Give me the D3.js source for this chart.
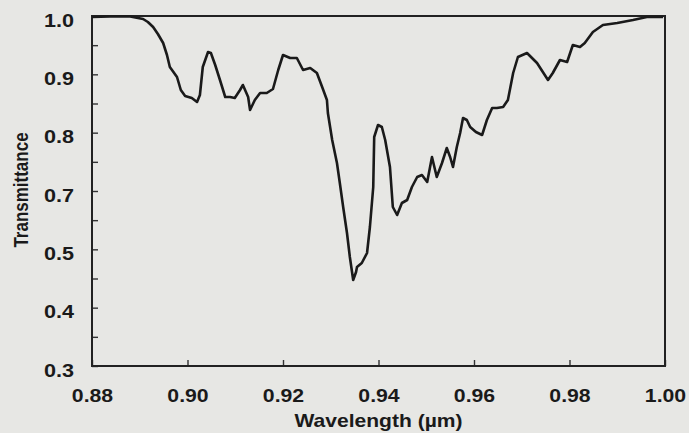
<!DOCTYPE html>
<html>
<head>
<meta charset="utf-8">
<script src="https://cdn.jsdelivr.net/npm/d3@7"></script>
<style>
  body { margin: 0; background: #e7e7e4; }
  svg { display: block; }
  text { font-family: "Liberation Sans", Arial, sans-serif; font-weight: bold; fill: #1a1a1a; }
  .line { fill: none; stroke: #1a1a1a; stroke-width: 2.6; stroke-linejoin: round; }
  .frame { fill: none; stroke: #222; stroke-width: 2; }
  .axis line { stroke: #333; stroke-width: 1.4; }
</style>
</head>
<body>
<svg width="689" height="433"></svg>
<script>

// wavelength (um) and transmittance
var wavelength = [0.8800, 0.8838, 0.8880, 0.8907, 0.8917, 0.8928, 0.8938, 0.8949, 0.8957, 0.8963,
                  0.8972, 0.8978, 0.8986, 0.8995, 0.9009, 0.9020, 0.9026, 0.9032, 0.9043, 0.9049,
                  0.9058, 0.9068, 0.9079, 0.9089, 0.9099, 0.9110, 0.9116, 0.9127, 0.9131, 0.9141,
                  0.9152, 0.9166, 0.9179, 0.9190, 0.9200, 0.9215, 0.9229, 0.9242, 0.9257, 0.9271,
                  0.9282, 0.9292, 0.9294, 0.9303, 0.9313, 0.9319, 0.9326, 0.9334, 0.9340, 0.9347,
                  0.9353, 0.9355, 0.9365, 0.9376, 0.9382, 0.9389, 0.9391, 0.9399, 0.9407, 0.9414,
                  0.9424, 0.9430, 0.9439, 0.9449, 0.9460, 0.9470, 0.9481, 0.9491, 0.9502, 0.9512,
                  0.9522, 0.9533, 0.9543, 0.9550, 0.9556, 0.9564, 0.9571, 0.9577, 0.9585, 0.9592,
                  0.9604, 0.9617, 0.9627, 0.9638, 0.9648, 0.9661, 0.9671, 0.9682, 0.9692, 0.9711,
                  0.9732, 0.9755, 0.9765, 0.9780, 0.9795, 0.9807, 0.9822, 0.9832, 0.9849, 0.9870,
                  0.9900, 0.9933, 0.9962, 0.9996];

var transmittance = [0.998, 0.999, 0.999, 0.994, 0.988, 0.978, 0.964, 0.946, 0.922, 0.898,
                     0.886, 0.878, 0.852, 0.840, 0.836, 0.828, 0.842, 0.898, 0.928, 0.926,
                     0.902, 0.872, 0.838, 0.838, 0.836, 0.852, 0.862, 0.838, 0.812, 0.832,
                     0.846, 0.846, 0.854, 0.892, 0.922, 0.916, 0.916, 0.892, 0.896, 0.886,
                     0.858, 0.832, 0.806, 0.752, 0.706, 0.666, 0.618, 0.566, 0.518, 0.472,
                     0.488, 0.498, 0.506, 0.526, 0.578, 0.658, 0.758, 0.782, 0.778, 0.752,
                     0.698, 0.618, 0.602, 0.626, 0.632, 0.658, 0.678, 0.682, 0.668, 0.718,
                     0.678, 0.706, 0.736, 0.718, 0.698, 0.738, 0.766, 0.796, 0.792, 0.778,
                     0.768, 0.762, 0.792, 0.816, 0.816, 0.818, 0.832, 0.886, 0.918, 0.926,
                     0.906, 0.872, 0.886, 0.912, 0.908, 0.942, 0.938, 0.946, 0.968, 0.982,
                     0.986, 0.992, 0.998, 0.998];

var xTicks = [0.88, 0.90, 0.92, 0.94, 0.96, 0.98, 1.00];
// the printed axis skips 0.6, labels are evenly spaced
var yLabels = ["1.0", "0.9", "0.8", "0.7", "0.5", "0.4", "0.3"];

var margin = {top: 16, right: 24, bottom: 67, left: 92};

var svg = d3.select("svg");
var width = +svg.attr("width") - margin.left - margin.right;
var height = +svg.attr("height") - margin.top - margin.bottom;

var g = svg.append("g")
    .attr("transform", "translate(" + margin.left + "," + margin.top + ")");

var x = d3.scaleLinear()
    .domain([0.88, 1.00])
    .range([0, width]);

var y = d3.scaleLinear()
    .domain([0.3, 1.0])
    .range([height, 0]);

var step = (1.0 - 0.3) / (yLabels.length - 1);
var yTicks = d3.range(0, 2 * yLabels.length - 1).map(function(i) { return 1.0 - i * step / 2; });

// x axis, ticks pointing in
var gx = g.append("g")
    .attr("class", "axis")
    .attr("transform", "translate(0," + height + ")")
    .call(d3.axisBottom(x)
        .tickValues(xTicks)
        .tickSizeInner(-6)
        .tickSizeOuter(0)
        .tickFormat(d3.format(".2f")));
gx.select(".domain").remove();
gx.selectAll("text")
    .attr("y", 23)
    .attr("dy", "0.71em")
    .attr("transform", "scale(1.18,1)")
    .style("font-size", "18px");

var gy = g.append("g")
    .attr("class", "axis")
    .call(d3.axisLeft(y)
        .tickValues(yTicks)
        .tickSizeInner(-6)
        .tickSizeOuter(0)
        .tickFormat(function(d, i) { return i % 2 ? "" : yLabels[i / 2]; }));
gy.select(".domain").remove();
gy.selectAll("text")
    .attr("x", -15)
    .attr("dy", 10)
    .attr("transform", "scale(1.2,1)")
    .style("font-size", "18px");

g.append("rect")
    .attr("class", "frame")
    .attr("width", width)
    .attr("height", height);

var line = d3.line()
    .x(function(d, i) { return x(wavelength[i]); })
    .y(function(d) { return y(d); });

g.append("path")
    .datum(transmittance)
    .attr("class", "line")
    .attr("d", line);

// axis titles
svg.append("text")
    .attr("transform", "translate(" + (margin.left + width / 2) + ",427) scale(1.17,1)")
    .attr("text-anchor", "middle")
    .style("font-size", "18px")
    .text("Wavelength (\u00b5m)");

svg.append("text")
    .attr("transform", "translate(28,190) rotate(-90) scale(1,1.2)")
    .attr("text-anchor", "middle")
    .style("font-size", "17px")
    .text("Transmittance");

</script>
</body>
</html>
